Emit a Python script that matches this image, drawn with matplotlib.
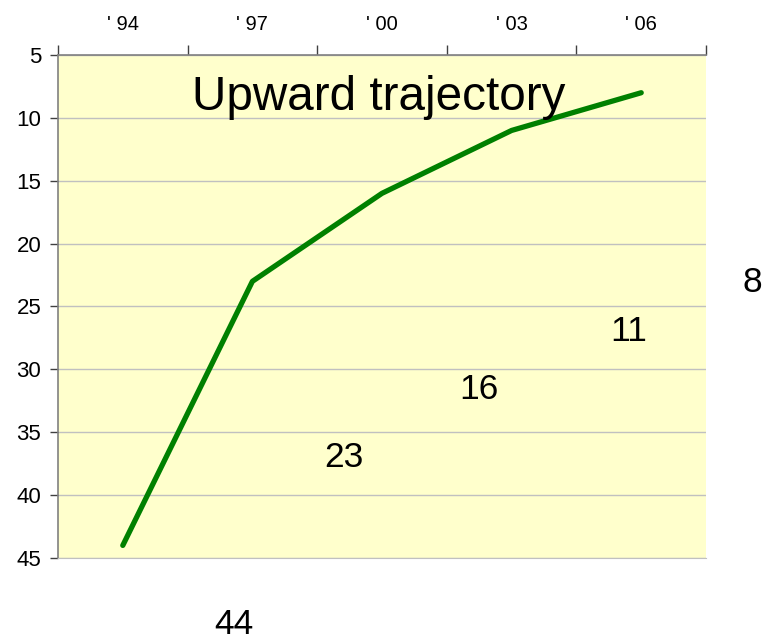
import matplotlib
matplotlib.use("Agg")
import matplotlib.pyplot as plt
import numpy as np

plt.rcParams['font.family'] = ['Liberation Sans', 'DejaVu Sans']

# data
years = ["' 94", "' 97", "' 00", "' 03", "' 06"]
values = [44, 23, 16, 11, 8]

# where each value label sits, relative to its point (category units, y units)
label_dx = [0.86, 0.71, 0.75, 0.905, 0.86]
label_dy = [6.3, 14.0, 15.64, 15.95, 15.13]

fig = plt.figure(figsize=(7.67, 6.41), dpi=100)
ax = fig.add_axes([0.0756, 0.1295, 0.8449, 0.7847])
ax.set_facecolor('#FFFFCC')

x = np.arange(len(years))
ax.plot(x, values, color='#008000', lw=3.8, solid_capstyle='round',
        solid_joinstyle='round', zorder=3)

for xi, v, dx, dy in zip(x, values, label_dx, label_dy):
    ax.text(xi + dx, v + dy, str(v), fontsize=25.5, ha='center', va='center',
            clip_on=False)

ax.text(0.495, 0.891, 'Upward trajectory', transform=ax.transAxes,
        fontsize=34.3, ha='center', va='baseline', zorder=4)

# y axis runs downwards
ax.set_ylim(45, 5)
ax.set_yticks(range(5, 46, 5))
ax.yaxis.grid(True, color='#C0C0C0', lw=1)
ax.set_axisbelow(True)

# categories along the top, ticks between them
ax.set_xlim(-0.5, len(years) - 0.5)
ax.xaxis.tick_top()
ax.set_xticks(np.arange(-0.5, len(years)), labels=[])
ax.set_xticks(x, labels=years, minor=True)
ax.tick_params(axis='x', which='major', length=7, width=1, color='#404040')
ax.tick_params(axis='x', which='minor', length=0, pad=15, labelsize=14.5)
ax.tick_params(axis='y', length=6, width=1, color='#404040', pad=6,
               labelsize=16)

for side in ['top', 'left']:
    ax.spines[side].set_color('#808080')
    ax.spines[side].set_linewidth(1.2)
ax.spines['bottom'].set_color('#C0C0C0')
ax.spines['right'].set_visible(False)

fig.savefig('out.png', dpi=100)
